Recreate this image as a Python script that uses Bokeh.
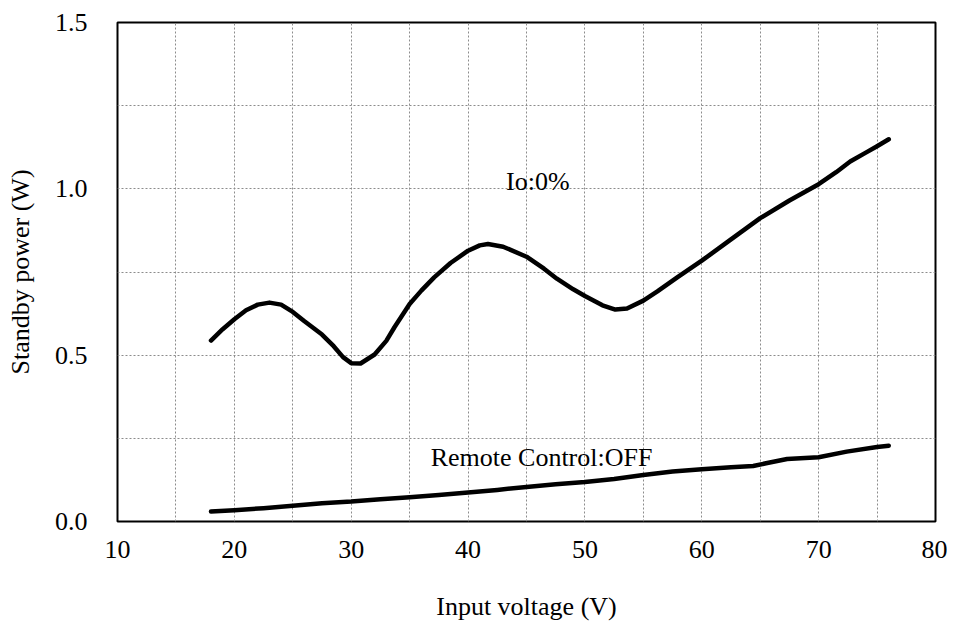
from bokeh.plotting import figure
from bokeh.models import FixedTicker, PrintfTickFormatter, Range1d
from bokeh.core.properties import value
from bokeh.embed import file_html
from bokeh.resources import INLINE

# Data
io0_x = [18, 19, 20, 21, 22, 23, 24, 25, 26, 27.5, 28.5, 29.3, 30, 30.8, 32, 33, 33.7,
         35, 36, 37.1, 38.5, 40, 41, 41.7, 43, 45, 46.5, 47.6, 49, 50, 51.5, 52.6, 53.6,
         55, 56.2, 57.9, 60, 62.5, 65, 67.5, 70, 71.5, 72.7, 74, 75, 76]
io0_y = [0.544, 0.578, 0.608, 0.635, 0.652, 0.658, 0.652, 0.630, 0.602, 0.562, 0.527,
         0.494, 0.476, 0.475, 0.502, 0.543, 0.584, 0.654, 0.694, 0.734, 0.777, 0.814,
         0.830, 0.834, 0.826, 0.796, 0.760, 0.730, 0.698, 0.678, 0.650, 0.637, 0.640,
         0.664, 0.692, 0.734, 0.784, 0.848, 0.912, 0.965, 1.014, 1.050, 1.082, 1.108,
         1.128, 1.149]

off_x = [18, 20, 22.5, 25, 27.5, 30, 32.5, 35, 37.5, 40, 42.5, 45, 47.5, 50, 52.5, 55,
         57.5, 60, 62.5, 64.4, 65.5, 67.3, 70, 72.4, 75, 76]
off_y = [0.030, 0.034, 0.040, 0.047, 0.055, 0.060, 0.067, 0.073, 0.080, 0.087, 0.095,
         0.104, 0.112, 0.119, 0.128, 0.140, 0.150, 0.157, 0.163, 0.167, 0.175, 0.188,
         0.193, 0.210, 0.224, 0.228]

x_ticks = [10, 20, 30, 40, 50, 60, 70, 80]
y_ticks = [0.0, 0.5, 1.0, 1.5]
x_grid = [15, 20, 25, 30, 35, 40, 45, 50, 55, 60, 65, 70, 75]
y_grid = [0.25, 0.5, 0.75, 1.0, 1.25]

FONT = "Liberation Serif"

p = figure(width=947, height=624, output_backend="svg", toolbar_location=None,
           x_range=Range1d(10, 80), y_range=Range1d(0, 1.5),
           min_border_left=117, min_border_right=12, min_border_top=22, min_border_bottom=103)

p.outline_line_color = "black"
p.outline_line_width = 2

for ax in (p.xaxis[0], p.yaxis[0]):
    ax.axis_line_color = None
    ax.major_tick_line_color = None
    ax.minor_tick_line_color = None
    ax.major_label_text_font = FONT
    ax.major_label_text_font_size = "26px"
    ax.major_label_text_color = "black"
    ax.axis_label_text_font = FONT
    ax.axis_label_text_font_size = "26px"
    ax.axis_label_text_font_style = "normal"
    ax.axis_label_text_color = "black"

p.xaxis.ticker = FixedTicker(ticks=x_ticks)
p.yaxis.ticker = FixedTicker(ticks=y_ticks)
p.yaxis.formatter = PrintfTickFormatter(format="%.1f")
p.xaxis.major_label_standoff = 13
p.yaxis.major_label_standoff = 24
p.xaxis.axis_label = "Input voltage (V)"
p.yaxis.axis_label = "Standby power (W)"
p.xaxis.axis_label_standoff = 31
p.yaxis.axis_label_standoff = 17

p.xgrid.ticker = FixedTicker(ticks=x_grid)
p.ygrid.ticker = FixedTicker(ticks=y_grid)
for g in (p.xgrid[0], p.ygrid[0]):
    g.grid_line_color = "#8c8c8c"
    g.grid_line_dash = "2 2"
    g.grid_line_width = 1

p.line(io0_x, io0_y, line_color="black", line_width=4.5, line_cap="round", line_join="round")
p.line(off_x, off_y, line_color="black", line_width=4.5, line_cap="round", line_join="round")

p.text(x=[43.25], y=[1.021], text=["Io:0%"], text_font=value(FONT), text_font_size="26px",
       text_color="black", text_align="left", text_baseline="alphabetic")
p.text(x=[36.8], y=[0.192], text=["Remote Control:OFF"], text_font=value(FONT),
       text_font_size="26px", text_color="black", text_align="left", text_baseline="alphabetic")

open("out.html", "w").write(file_html(p, INLINE))
